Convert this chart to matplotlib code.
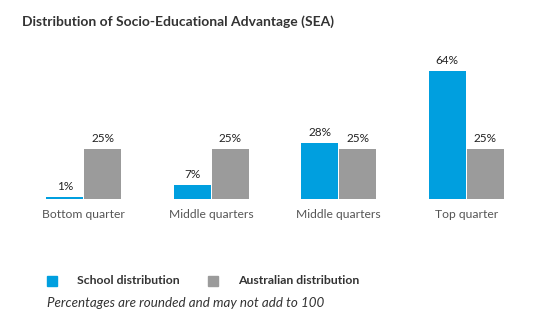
import matplotlib

matplotlib.use("Agg")
import matplotlib.pyplot as plt
from matplotlib.patches import Rectangle
import numpy as np

plt.rcParams["font.family"] = ["Lato", "DejaVu Sans"]

CATEGORIES = ["Bottom quarter", "Middle quarters", "Middle quarters", "Top quarter"]
SCHOOL = [1, 7, 28, 64]
AUSTRALIA = [25, 25, 25, 25]
SERIES_NAMES = ["School distribution", "Australian distribution"]

BLUE = "#009FDF"
GREY = "#9B9B9B"

W, H = 533, 334
fig = plt.figure(figsize=(W / 100, H / 100), dpi=100)
ax = fig.add_axes([20 / W, (H - 199) / H, 510 / W, 140 / H])

x = np.arange(len(CATEGORIES))
bw = 0.29
off = bw / 2 + 0.004
b1 = ax.bar(x - off, SCHOOL, width=bw, color=BLUE)
b2 = ax.bar(x + off, AUSTRALIA, width=bw, color=GREY)

for bars, vals in ((b1, SCHOOL), (b2, AUSTRALIA)):
    for bar, v in zip(bars, vals):
        ax.text(bar.get_x() + bar.get_width() / 2, v + 2.5, f"{v}%",
                ha="center", va="bottom", fontsize=8.5, color="#222222")

ax.set_xlim(-0.5, 3.5)
ax.set_ylim(0, 70)
ax.set_yticks([])
ax.set_xticks(x)
ax.set_xticklabels(CATEGORIES, fontsize=8.7, color="#555555")
ax.tick_params(axis="x", length=0, pad=7)
for s in ax.spines.values():
    s.set_visible(False)

fig.text(22 / W, 1 - 22 / H, "Distribution of Socio-Educational Advantage (SEA)",
         fontsize=10, fontweight="bold", color="#333333", va="center", ha="left")

# legend: coloured squares with labels beside them
for color, name, sx, tx in ((BLUE, SERIES_NAMES[0], 47, 77), (GREY, SERIES_NAMES[1], 208, 238)):
    fig.patches.append(Rectangle((sx / W, 1 - 286 / H), 10 / W, 10 / H,
                                 transform=fig.transFigure, color=color))
    fig.text(tx / W, 1 - 281 / H, name, fontsize=8.8, fontweight="bold",
             color="#333333", va="center", ha="left")

fig.text(47 / W, 1 - 303 / H, "Percentages are rounded and may not add to 100",
         fontsize=9.6, style="italic", color="#333333", va="center", ha="left")

fig.savefig("out.png", dpi=100)
